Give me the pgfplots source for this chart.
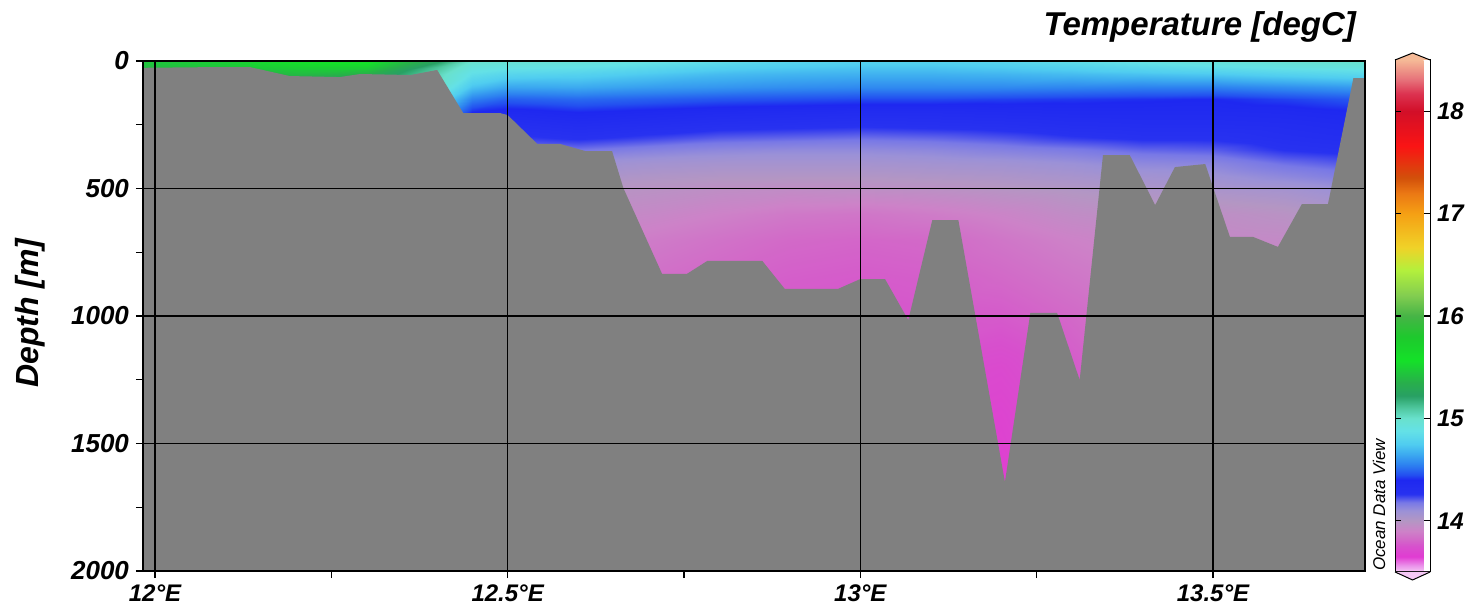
\documentclass[border=0pt]{standalone}
\usepackage{fontspec}
\setmainfont{Liberation Sans}
\usepackage{pgfplots}
\pgfplotsset{compat=1.18}
\usepackage{pgfplotstable}
\definecolor{bathy}{RGB}{128,128,128}
\definecolor{captop}{RGB}{245,185,150}
\definecolor{capbot}{RGB}{245,200,245}

% temperature grid: x (deg E), depth (m), T (degC)
\pgfplotstableread{
x y t
11.97 0 15.45
12.1 0 15.50
12.2 0 15.57
12.3 0 15.60
12.4 0 15.25
12.45 0 15.00
12.5 0 14.97
12.6 0 14.95
12.7 0 14.90
12.8 0 14.85
12.9 0 14.80
13.0 0 14.78
13.1 0 14.78
13.2 0 14.80
13.3 0 14.85
13.4 0 14.90
13.5 0 14.95
13.6 0 14.97
13.73 0 15.00
11.97 25 15.40
12.1 25 15.45
12.2 25 15.50
12.3 25 15.50
12.4 25 15.12
12.45 25 14.93
12.5 25 14.90
12.6 25 14.88
12.7 25 14.83
12.8 25 14.78
12.9 25 14.75
13.0 25 14.73
13.1 25 14.73
13.2 25 14.75
13.3 25 14.78
13.4 25 14.82
13.5 25 14.86
13.6 25 14.90
13.73 25 14.93
11.97 50 15.30
12.1 50 15.35
12.2 50 15.40
12.3 50 15.35
12.4 50 15.05
12.45 50 14.86
12.5 50 14.80
12.6 50 14.78
12.7 50 14.74
12.8 50 14.70
12.9 50 14.68
13.0 50 14.67
13.1 50 14.67
13.2 50 14.68
13.3 50 14.70
13.4 50 14.72
13.5 50 14.74
13.6 50 14.78
13.73 50 14.82
11.97 100 15.10
12.1 100 15.10
12.2 100 15.10
12.3 100 15.10
12.4 100 15.00
12.45 100 14.72
12.5 100 14.64
12.6 100 14.65
12.7 100 14.62
12.8 100 14.60
12.9 100 14.58
13.0 100 14.57
13.1 100 14.57
13.2 100 14.57
13.3 100 14.56
13.4 100 14.55
13.5 100 14.55
13.6 100 14.58
13.73 100 14.62
11.97 150 15.00
12.1 150 15.00
12.2 150 15.00
12.3 150 15.00
12.4 150 14.85
12.45 150 14.55
12.5 150 14.48
12.6 150 14.50
12.7 150 14.48
12.8 150 14.46
12.9 150 14.45
13.0 150 14.44
13.1 150 14.44
13.2 150 14.43
13.3 150 14.42
13.4 150 14.41
13.5 150 14.40
13.6 150 14.43
13.73 150 14.47
11.97 200 14.90
12.1 200 14.90
12.2 200 14.90
12.3 200 14.90
12.4 200 14.70
12.45 200 14.40
12.5 200 14.37
12.6 200 14.40
12.7 200 14.38
12.8 200 14.36
12.9 200 14.35
13.0 200 14.34
13.1 200 14.34
13.2 200 14.35
13.3 200 14.36
13.4 200 14.36
13.5 200 14.36
13.6 200 14.37
13.73 200 14.40
11.97 250 14.80
12.1 250 14.80
12.2 250 14.80
12.3 250 14.80
12.4 250 14.60
12.45 250 14.32
12.5 250 14.30
12.6 250 14.33
12.7 250 14.31
12.8 250 14.29
12.9 250 14.28
13.0 250 14.27
13.1 250 14.28
13.2 250 14.29
13.3 250 14.31
13.4 250 14.32
13.5 250 14.32
13.6 250 14.33
13.73 250 14.36
11.97 300 14.70
12.1 300 14.70
12.2 300 14.70
12.3 300 14.70
12.4 300 14.50
12.45 300 14.25
12.5 300 14.24
12.6 300 14.27
12.7 300 14.24
12.8 300 14.21
12.9 300 14.20
13.0 300 14.19
13.1 300 14.20
13.2 300 14.22
13.3 300 14.25
13.4 300 14.27
13.5 300 14.27
13.6 300 14.30
13.73 300 14.33
11.97 350 14.60
12.1 350 14.60
12.2 350 14.60
12.3 350 14.60
12.4 350 14.40
12.45 350 14.17
12.5 350 14.16
12.6 350 14.18
12.7 350 14.15
12.8 350 14.13
12.9 350 14.12
13.0 350 14.12
13.1 350 14.13
13.2 350 14.15
13.3 350 14.17
13.4 350 14.20
13.5 350 14.21
13.6 350 14.26
13.73 350 14.29
11.97 400 14.50
12.1 400 14.50
12.2 400 14.50
12.3 400 14.50
12.4 400 14.30
12.45 400 14.10
12.5 400 14.09
12.6 400 14.09
12.7 400 14.07
12.8 400 14.06
12.9 400 14.06
13.0 400 14.06
13.1 400 14.07
13.2 400 14.08
13.3 400 14.10
13.4 400 14.13
13.5 400 14.14
13.6 400 14.19
13.73 400 14.23
11.97 450 14.40
12.1 450 14.40
12.2 450 14.40
12.3 450 14.40
12.4 450 14.20
12.45 450 14.05
12.5 450 14.04
12.6 450 14.04
12.7 450 14.02
12.8 450 14.01
12.9 450 14.01
13.0 450 14.01
13.1 450 14.02
13.2 450 14.03
13.3 450 14.05
13.4 450 14.07
13.5 450 14.09
13.6 450 14.13
13.73 450 14.18
11.97 500 14.30
12.1 500 14.30
12.2 500 14.30
12.3 500 14.30
12.4 500 14.10
12.45 500 14.00
12.5 500 14.00
12.6 500 13.99
12.7 500 13.98
12.8 500 13.96
12.9 500 13.95
13.0 500 13.96
13.1 500 13.97
13.2 500 13.99
13.3 500 14.01
13.4 500 14.03
13.5 500 14.04
13.6 500 14.06
13.73 500 14.12
11.97 600 14.20
12.1 600 14.20
12.2 600 14.20
12.3 600 14.20
12.4 600 14.00
12.45 600 13.95
12.5 600 13.95
12.6 600 13.95
12.7 600 13.93
12.8 600 13.90
12.9 600 13.87
13.0 600 13.86
13.1 600 13.88
13.2 600 13.91
13.3 600 13.95
13.4 600 13.97
13.5 600 13.96
13.6 600 13.98
13.73 600 14.05
11.97 700 14.10
12.1 700 14.10
12.2 700 14.10
12.3 700 14.10
12.4 700 13.95
12.45 700 13.90
12.5 700 13.90
12.6 700 13.90
12.7 700 13.88
12.8 700 13.85
12.9 700 13.82
13.0 700 13.81
13.1 700 13.82
13.2 700 13.86
13.3 700 13.90
13.4 700 13.93
13.5 700 13.93
13.6 700 13.94
13.73 700 14.00
11.97 850 14.00
12.1 850 14.00
12.2 850 14.00
12.3 850 14.00
12.4 850 13.90
12.45 850 13.86
12.5 850 13.86
12.6 850 13.86
12.7 850 13.84
12.8 850 13.81
12.9 850 13.79
13.0 850 13.78
13.1 850 13.79
13.2 850 13.82
13.3 850 13.86
13.4 850 13.90
13.5 850 13.90
13.6 850 13.90
13.73 850 13.95
11.97 1000 13.95
12.1 1000 13.95
12.2 1000 13.95
12.3 1000 13.95
12.4 1000 13.85
12.45 1000 13.82
12.5 1000 13.82
12.6 1000 13.82
12.7 1000 13.80
12.8 1000 13.78
12.9 1000 13.77
13.0 1000 13.76
13.1 1000 13.77
13.2 1000 13.78
13.3 1000 13.82
13.4 1000 13.88
13.5 1000 13.88
13.6 1000 13.88
13.73 1000 13.90
11.97 1200 13.90
12.1 1200 13.90
12.2 1200 13.90
12.3 1200 13.90
12.4 1200 13.80
12.45 1200 13.78
12.5 1200 13.78
12.6 1200 13.78
12.7 1200 13.77
12.8 1200 13.75
12.9 1200 13.74
13.0 1200 13.74
13.1 1200 13.74
13.2 1200 13.72
13.3 1200 13.78
13.4 1200 13.85
13.5 1200 13.85
13.6 1200 13.85
13.73 1200 13.85
11.97 1400 13.85
12.1 1400 13.85
12.2 1400 13.85
12.3 1400 13.85
12.4 1400 13.75
12.45 1400 13.74
12.5 1400 13.74
12.6 1400 13.74
12.7 1400 13.73
12.8 1400 13.72
12.9 1400 13.71
13.0 1400 13.71
13.1 1400 13.71
13.2 1400 13.69
13.3 1400 13.76
13.4 1400 13.80
13.5 1400 13.80
13.6 1400 13.80
13.73 1400 13.80
11.97 1700 13.80
12.1 1700 13.80
12.2 1700 13.80
12.3 1700 13.80
12.4 1700 13.70
12.45 1700 13.70
12.5 1700 13.70
12.6 1700 13.70
12.7 1700 13.70
12.8 1700 13.69
12.9 1700 13.68
13.0 1700 13.68
13.1 1700 13.68
13.2 1700 13.66
13.3 1700 13.72
13.4 1700 13.75
13.5 1700 13.75
13.6 1700 13.75
13.73 1700 13.75
}\tempgrid

\newcommand\lab{\bfseries\itshape}

\begin{document}
\begin{tikzpicture}
\useasboundingbox (-71.5pt,-22.5pt) rectangle (662.5pt,285.5pt);
\begin{axis}[
  scale only axis, width=611pt, height=255pt,
  at={(0,0)}, anchor=south west,
  xmin=11.983, xmax=13.7155, ymin=0, ymax=2000, y dir=reverse,
  xtick={12,12.5,13,13.5}, xticklabels={12°E,12.5°E,13°E,13.5°E},
  minor xtick={12.25,12.75,13.25},
  ytick={0,500,1000,1500,2000}, minor ytick={250,750,1250,1750},
  tick pos=left, tick align=outside,
  major tick length=3.5pt, minor tick length=3.5pt,
  tick style={black, line width=0.6pt},
  xmajorgrids, ymajorgrids,
  major grid style={black, line width=0.8pt},
  axis line style={line width=1pt},
  axis on top,
  xticklabel style={font=\fontsize{12}{14}\selectfont\lab},
  yticklabel style={font=\fontsize{13}{15}\selectfont\lab},
  /pgf/number format/assume math mode=true,
  /pgf/number format/1000 sep={},
  colormap={odv}{
    rgb255(0pt)=(245,200,245) rgb255(6pt)=(235,150,235) rgb255(15pt)=(225,60,210)
    rgb255(25pt)=(215,80,205) rgb255(32pt)=(210,105,200) rgb255(40pt)=(205,130,200)
    rgb255(50pt)=(180,150,195) rgb255(60pt)=(155,145,215) rgb255(68pt)=(120,120,230)
    rgb255(76pt)=(40,50,240) rgb255(90pt)=(30,40,240) rgb255(95pt)=(35,80,240)
    rgb255(105pt)=(45,130,240) rgb255(115pt)=(60,170,240) rgb255(125pt)=(80,205,240)
    rgb255(138pt)=(100,225,230)
    rgb255(150pt)=(105,225,205) rgb255(160pt)=(80,200,160) rgb255(172pt)=(40,160,100)
    rgb255(185pt)=(40,175,75) rgb255(207pt)=(20,225,40) rgb255(230pt)=(30,200,45)
    rgb255(250pt)=(70,180,70) rgb255(270pt)=(130,205,80) rgb255(295pt)=(180,240,60)
    rgb255(317pt)=(240,210,40) rgb255(350pt)=(245,160,20) rgb255(370pt)=(235,120,20)
    rgb255(385pt)=(210,80,10) rgb255(416pt)=(250,20,20) rgb255(450pt)=(210,15,40)
    rgb255(467pt)=(220,50,80) rgb255(480pt)=(230,110,120) rgb255(500pt)=(245,185,150)
  },
  point meta min=13.5, point meta max=18.5,
  colorbar,
  colorbar style={
    scale only axis, width=17.5pt, height=256pt,
    at={(parent axis.north east)}, anchor=north west, xshift=6.5pt, yshift=0.5pt,
    ytick={14,15,16,17,18}, minor ytick={},
    yticklabel pos=right, ytick pos=both,
    tick align=inside, major tick length=3pt,
    ytick style={black, line width=0.6pt},
    axis line style={line width=0.5pt},
    yticklabel style={font=\fontsize{12}{14}\selectfont\lab},
    /pgf/number format/assume math mode=true,
    extra description/.code={
      \fill[captop] (axis description cs:0,1) -- (axis description cs:0.5,1.0137) -- (axis description cs:1,1) -- cycle;
      \draw[black, line width=0.5pt] (axis description cs:0,1) -- (axis description cs:0.5,1.0137) -- (axis description cs:1,1);
      \fill[capbot] (axis description cs:0,0) -- (axis description cs:0.5,-0.0156) -- (axis description cs:1,0) -- cycle;
      \draw[black, line width=0.5pt] (axis description cs:0,0) -- (axis description cs:0.5,-0.0156) -- (axis description cs:1,0);
    },
  },
]
\addplot[surf, shader=interp, mesh/cols=19, point meta=explicit]
  table[x=x, y=y, meta=t] {\tempgrid};
\addplot[draw=none, fill=bathy] coordinates {
  (11.97,27) (12.078,24) (12.135,24) (12.191,59) (12.262,63) (12.291,51)
  (12.362,55) (12.400,35) (12.437,204) (12.489,204) (12.500,212) (12.542,325)
  (12.574,325) (12.610,353) (12.648,353) (12.664,498) (12.719,835) (12.754,835)
  (12.783,784) (12.861,784) (12.893,894) (12.968,894) (13.0,855) (13.035,855)
  (13.068,1016) (13.102,624) (13.139,624) (13.205,1651) (13.241,988) (13.279,988)
  (13.311,1251) (13.344,369) (13.382,369) (13.418,565) (13.446,416) (13.489,404)
  (13.500,494) (13.524,690) (13.557,690) (13.592,729) (13.626,561) (13.663,561)
  (13.699,67) (13.73,67) (13.73,2010) (11.97,2010)
} -- cycle;
\end{axis}
\node[anchor=base east, font=\fontsize{16.5}{19}\selectfont\lab] at (610pt,267.5pt) {Temperature [degC]};
\node[rotate=90, anchor=center, font=\fontsize{16}{19}\selectfont\lab] at (-56.5pt,129pt) {Depth [m]};
\node[rotate=90, anchor=center, font=\fontsize{8.5}{10}\selectfont\itshape] at (618pt,33pt) {Ocean Data View};
\end{tikzpicture}
\end{document}
